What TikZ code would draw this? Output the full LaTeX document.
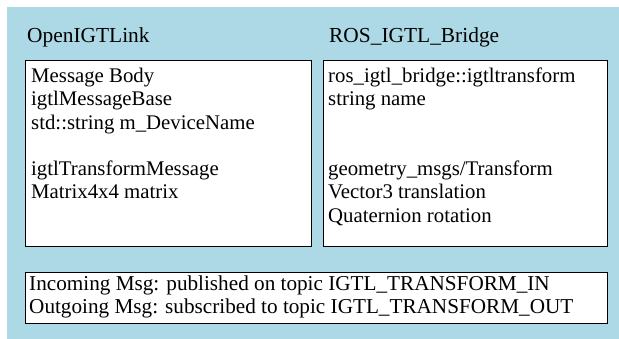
\documentclass[tikz,border=0pt]{standalone}
\usepackage{fontspec}
\setmainfont{Liberation Serif}
\definecolor{panelblue}{HTML}{ADD8E6}
\begin{document}
\begin{tikzpicture}[x=1pt,y=-1pt,
  box/.style={draw=black,fill=white,line width=1.1pt,anchor=north west,inner sep=0pt},
  txt/.style={anchor=base west,inner sep=0pt,font=\fontsize{20.8}{23.3}\selectfont},
  title/.style={txt,font=\fontsize{21.4}{24}\selectfont},
  note/.style={txt,font=\fontsize{21.2}{24}\selectfont}]
  \useasboundingbox (0,0) rectangle (619,339);
  % panel background
  \fill[panelblue] (7,7) rectangle (619,339);

  % column titles
  \node[title] (tleft) at (27,43) {OpenIGTLink};
  \node[title] (tright) at (329,43) {ROS\_IGTL\_Bridge};

  % message boxes
  \node[box,minimum width=286pt,minimum height=186pt] (lbox) at (25,60) {};
  \node[box,minimum width=284pt,minimum height=186pt] (rbox) at (323,60) {};
  \node[box,minimum width=582pt,minimum height=51pt] (bbox) at (25,272) {};

  % OpenIGTLink side
  \node[txt] (l1) at (31,82.5) {Message Body};
  \node[txt] (l2) at (31,105.8) {igtlMessageBase};
  \node[txt] (l3) at (31,129.1) {std::string m\_DeviceName};
  \node[txt] (l4) at (31,175.7) {igtlTransformMessage};
  \node[txt] (l5) at (31,199) {Matrix4x4 matrix};

  % ROS side
  \node[txt] (r1) at (328,82.5) {ros\_igtl\_bridge::igtltransform};
  \node[txt] (r2) at (328,105.8) {string name};
  \node[txt] (r3) at (328,175.7) {geometry\_msgs/Transform};
  \node[txt] (r4) at (328,199) {Vector3 translation};
  \node[txt] (r5) at (328,222.3) {Quaternion rotation};

  % topic notes
  \node[note] (b1) at (29,290.5) {Incoming Msg: published on topic IGTL\_TRANSFORM\_IN};
  \node[note] (b2) at (29,313.8) {Outgoing Msg: subscribed to topic IGTL\_TRANSFORM\_OUT};
\end{tikzpicture}
\end{document}
